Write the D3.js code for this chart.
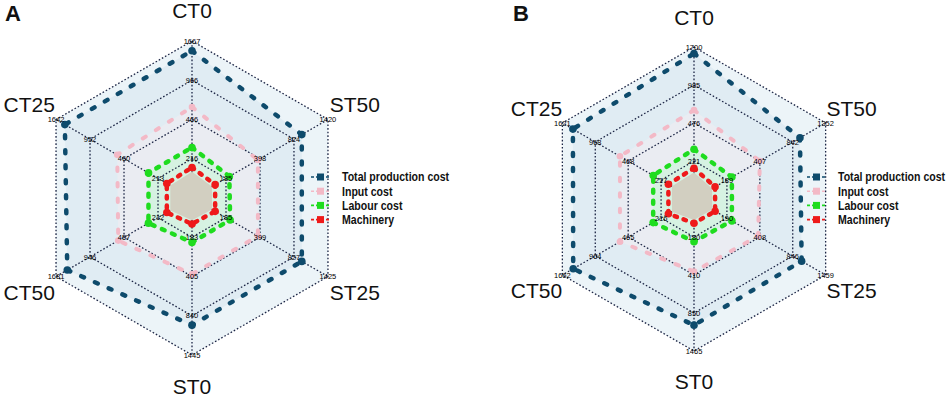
<!DOCTYPE html>
<html>
<head>
<meta charset="utf-8">
<script src="https://cdn.jsdelivr.net/npm/d3@7"></script>
<style>
body { margin: 0; background: #fff; }
svg { display: block; font-family: "Liberation Sans", Arial, sans-serif; }
</style>
</head>
<body>
<svg id="chart" width="948" height="398"></svg>
<script>
// axes go clockwise from the top
const axes = ["CT0", "ST50", "ST25", "ST0", "CT50", "CT25"];
const seriesNames = ["Total production cost", "Input cost", "Labour cost", "Machinery"];

// values written on the four grid rings of each axis
const ringLabelsA = [
  [216, 466, 966, 1667],
  [185, 398, 824, 1420],
  [185, 399, 827, 1425],
  [183, 405, 840, 1445],
  [212, 457, 946, 1681],
  [213, 460, 952, 1642]
];
const ringLabelsB = [
  [221, 476, 985, 1700],
  [189, 407, 842, 1352],
  [190, 408, 846, 1459],
  [180, 410, 850, 1465],
  [216, 465, 964, 1662],
  [217, 468, 968, 1621]
];

// panel A
const totalA = [1492, 961, 965, 985, 1438, 1463];
const inputA = [626, 385, 386, 392, 540, 558];
const labourA = [288, 206, 211, 212, 281, 282];
const machineryA = [168, 126, 126, 121, 157, 158];

// panel B
const totalB = [1578, 954, 1012, 1047, 1432, 1412];
const inputB = [649, 407, 397, 389, 590, 593];
const labourB = [300, 222, 223, 208, 276, 277];
const machineryB = [179, 121, 122, 115, 168, 169];

const colors = ["#0e4b6c", "#f3b9c6", "#1fdc1f", "#ee1a1a"];
const fills = ["#e0ecf3", "#eaecf2", "#d6f2e2", "#d2cfc1"];
const dashes = ["3,12", "3.5,12", "3,8", "2.5,7"];

const svg = d3.select("#chart");

function drawRadar(opt) {
  const g = svg.append("g").attr("transform", `translate(${opt.cx},${opt.cy})`);
  const radii = [1, 2, 3, 4].map(k => opt.R * k / 4);
  const scales = opt.rings.map(r => d3.scaleLinear().domain([0, ...r]).range([0, ...radii]));
  const pt = (i, r) => {
    const a = i * Math.PI / 3;
    return [r * Math.sin(a), -r * Math.cos(a)];
  };
  const line = d3.line().curve(d3.curveLinearClosed);
  const shape = (vals, k = 1) => line(vals.map((v, i) => pt(i, scales[i](v) * k)));
  const ring = r => line(axes.map((a, i) => pt(i, r)));

  // background + series fills
  g.append("path").attr("d", ring(opt.R)).attr("fill", "#ecf4f8");
  opt.series.slice(0, 3).forEach((s, j) => {
    g.append("path").attr("d", shape(s)).attr("fill", fills[j]);
  });

  // dotted grid
  radii.forEach(r => {
    g.append("path").attr("d", ring(r))
      .attr("fill", "none").attr("stroke", "#1b2444")
      .attr("stroke-width", 1.3).attr("stroke-dasharray", "1.6,2");
  });
  axes.forEach((a, i) => {
    const p = pt(i, opt.R);
    g.append("line").attr("x1", 0).attr("y1", 0).attr("x2", p[0]).attr("y2", p[1])
      .attr("stroke", "#1b2444").attr("stroke-width", 1.3).attr("stroke-dasharray", "1.6,2");
  });

  // machinery core
  g.append("path").attr("d", shape(opt.series[3], 0.86)).attr("fill", fills[3]);

  // series lines
  opt.series.forEach((s, j) => {
    g.append("path").attr("d", shape(s))
      .attr("fill", "none").attr("stroke", colors[j])
      .attr("stroke-width", j === 1 ? 4 : 4.5)
      .attr("stroke-linecap", "round")
      .attr("stroke-dasharray", dashes[j]);
    g.selectAll(null).data(s).join("circle")
      .attr("cx", (v, i) => pt(i, scales[i](v))[0])
      .attr("cy", (v, i) => pt(i, scales[i](v))[1])
      .attr("r", j === 1 ? 3.3 : 3.8)
      .attr("fill", colors[j]);
  });

  // ring value labels
  opt.rings.forEach((labs, i) => {
    labs.forEach(v => {
      const p = pt(i, scales[i](v));
      g.append("text").attr("x", p[0]).attr("y", p[1]).attr("dy", "0.35em")
        .attr("text-anchor", "middle").attr("font-size", 7.5).attr("fill", "#000")
        .text(v);
    });
  });

  // axis titles
  axes.forEach((a, i) => {
    const p = pt(i, opt.R + opt.titleGap);
    g.append("text").attr("x", p[0]).attr("y", p[1]).attr("dy", "0.36em")
      .attr("text-anchor", "middle").attr("font-size", 21).attr("fill", "#111")
      .text(a);
  });

  // panel letter
  svg.append("text").attr("x", opt.letterX).attr("y", 21)
    .attr("font-size", 22).attr("font-weight", "bold").attr("fill", "#111")
    .text(opt.letter);

  // legend
  const leg = svg.append("g").attr("transform", `translate(${opt.legX},177)`);
  seriesNames.forEach((name, j) => {
    const row = leg.append("g").attr("transform", `translate(0,${j * 14.2})`);
    row.append("line").attr("x1", 0).attr("x2", 18).attr("y1", 0).attr("y2", 0)
      .attr("stroke", colors[j]).attr("stroke-width", 1.6).attr("stroke-dasharray", "3,2");
    row.append("rect").attr("x", 6).attr("y", -3.5).attr("width", 7).attr("height", 7)
      .attr("fill", colors[j]);
    row.append("text").attr("transform", "translate(31,0) scale(0.88,1)")
      .attr("dy", "0.36em").attr("font-size", 12).attr("font-weight", "bold")
      .attr("fill", "#111").text(name);
  });
}

drawRadar({cx: 192, cy: 198, R: 157, titleGap: 31, rings: ringLabelsA,
  series: [totalA, inputA, labourA, machineryA], letter: "A", letterX: 5, legX: 311});
drawRadar({cx: 694, cy: 199, R: 152, titleGap: 30, rings: ringLabelsB,
  series: [totalB, inputB, labourB, machineryB], letter: "B", letterX: 513, legX: 807});
</script>
</body>
</html>
